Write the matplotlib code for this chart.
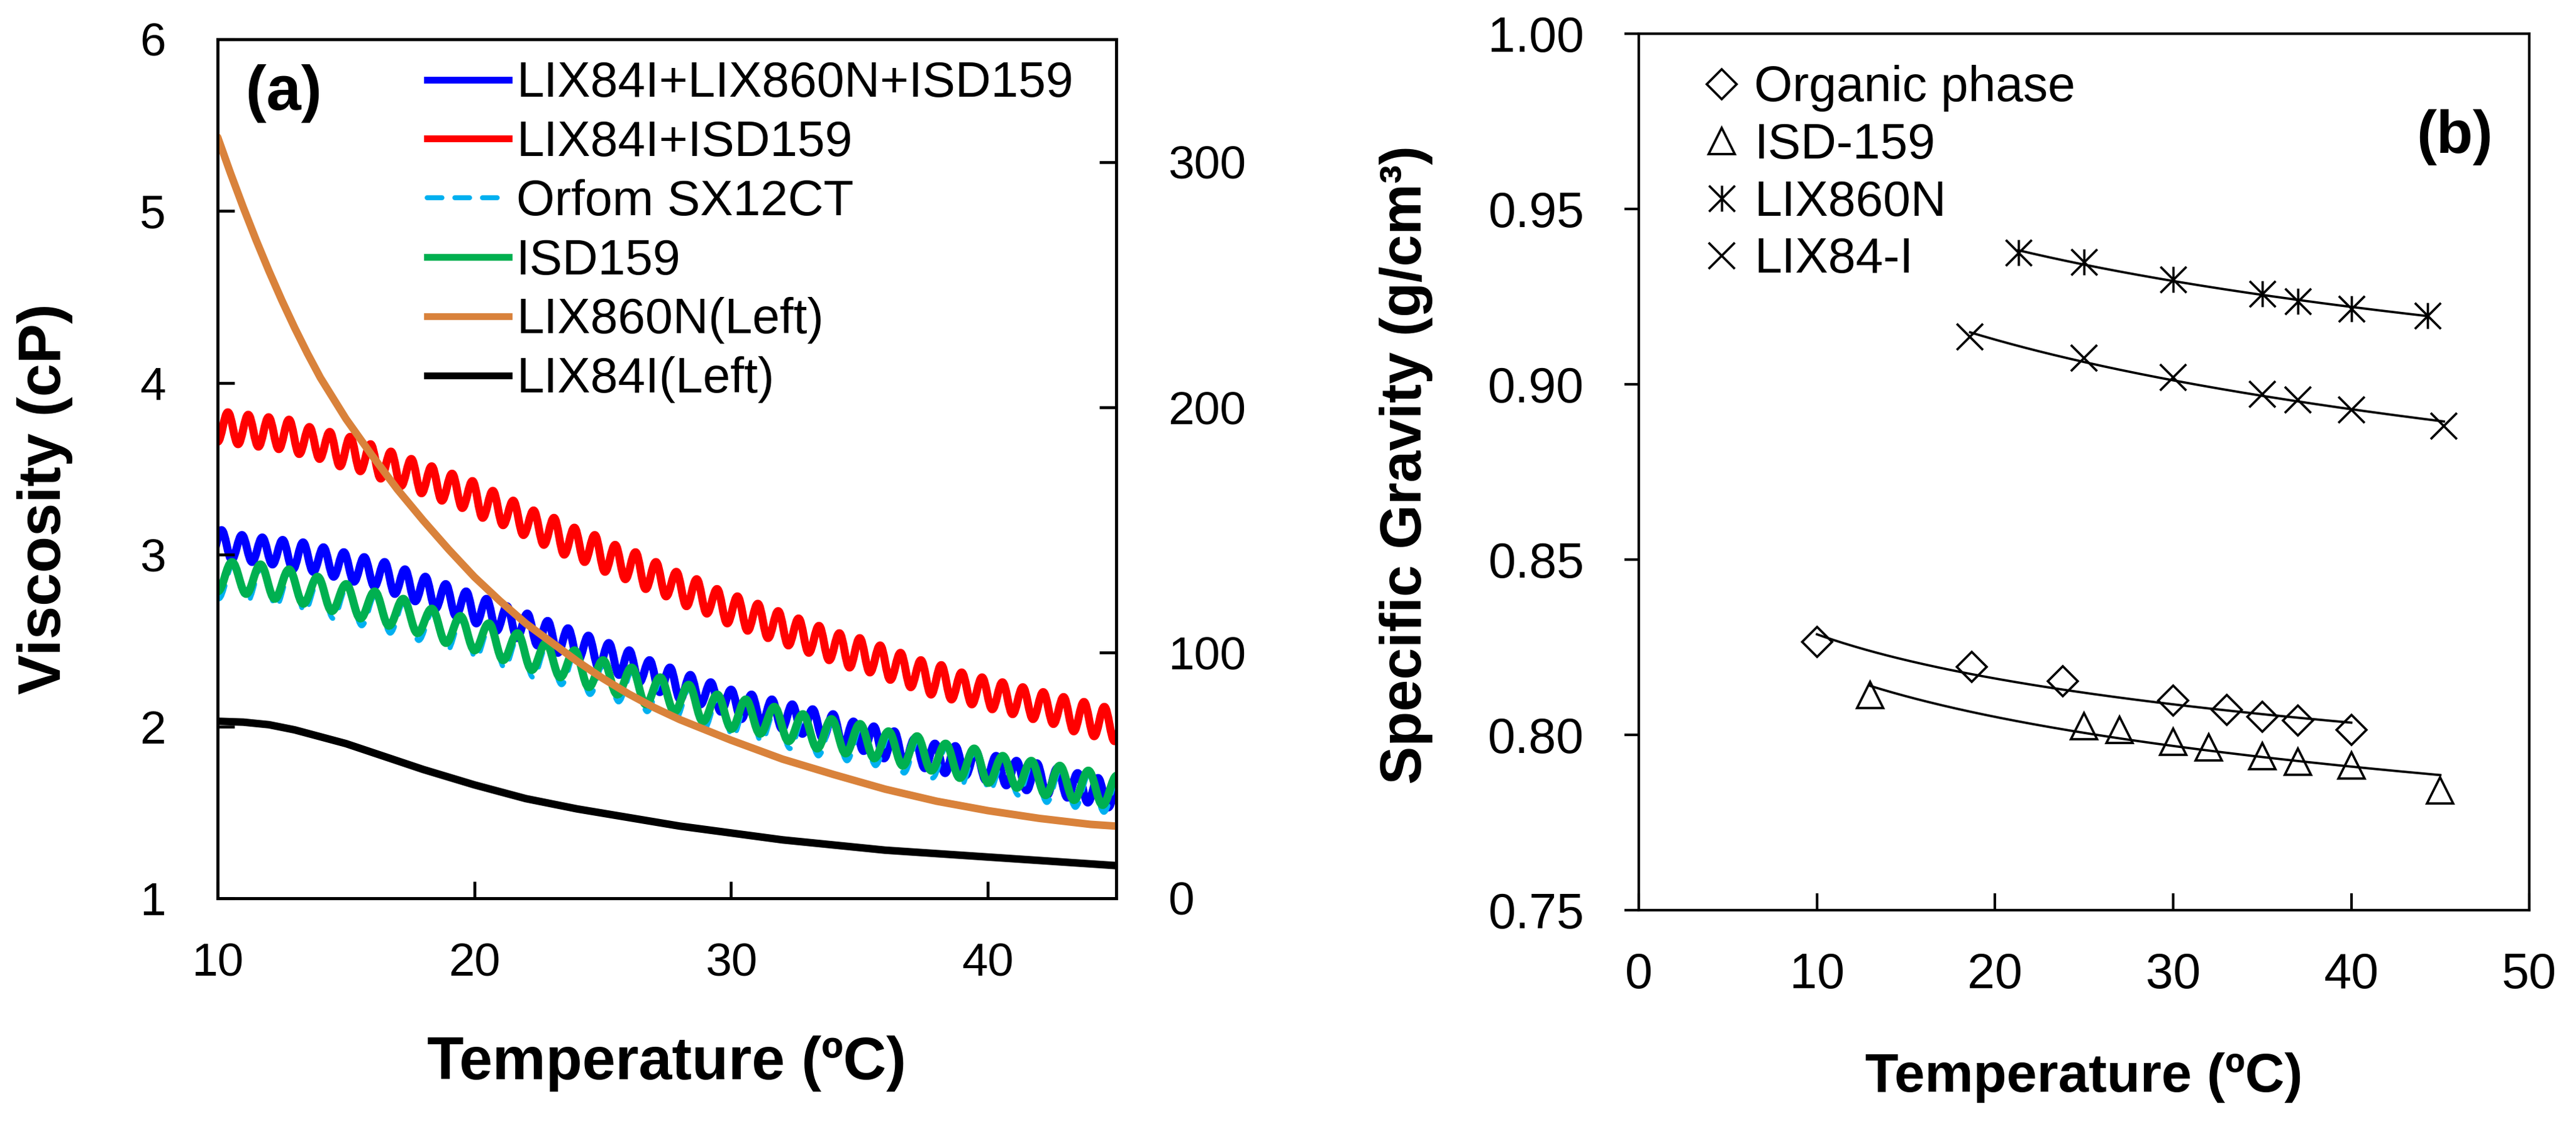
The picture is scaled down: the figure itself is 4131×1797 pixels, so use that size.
import numpy as np
import matplotlib.pyplot as plt
from matplotlib.path import Path
from matplotlib.patches import PathPatch
from matplotlib.lines import Line2D
from matplotlib.ticker import FormatStrFormatter

plt.rcParams['font.family'] = ['Liberation Sans', 'DejaVu Sans']

# ---- panel (a): viscosity vs temperature ----
# single extractants, left axis (cP)
lix860n_t = [10, 10.5, 11, 11.5, 12, 12.5, 13, 13.5, 14, 15, 16, 17, 18, 19, 20, 21,
             22, 23, 24, 25, 26, 27, 28, 29, 30, 32, 34, 36, 38, 40, 42, 44, 45]
lix860n_cp = [5.43, 5.22, 5.02, 4.83, 4.65, 4.48, 4.32, 4.17, 4.03, 3.79, 3.58, 3.38,
              3.20, 3.03, 2.87, 2.73, 2.60, 2.49, 2.38, 2.28, 2.19, 2.11, 2.04, 1.98,
              1.92, 1.81, 1.72, 1.635, 1.565, 1.51, 1.465, 1.43, 1.42]
lix84i_t = [10, 11, 12, 13, 14, 15, 16, 17, 18, 20, 22, 24, 26, 28, 30, 32, 34, 36,
            38, 40, 42, 44, 45]
lix84i_cp = [2.03, 2.025, 2.01, 1.98, 1.94, 1.90, 1.85, 1.80, 1.75, 1.66, 1.58, 1.52,
             1.47, 1.42, 1.38, 1.34, 1.31, 1.28, 1.26, 1.24, 1.22, 1.20, 1.19]

# blends, right axis (cP): alternating troughs / peaks of the oscillating traces
blue_t0, red_t0, green_t0, cyan_t0 = 9.753, 10.0, 10.0, 10.05
fast_step, slow_step = 0.397, 0.556   # spacing between successive extrema (degC)

blue_cp = [139, 150, 138, 148, 137, 147, 136, 146, 134, 145,
           133, 143, 131, 141, 129, 139, 127, 137, 124, 134,
           121, 131, 118, 128, 115, 125, 112, 122, 109, 119,
           106, 116, 103, 113, 100, 110, 97, 107, 94, 104,
           91, 101, 88, 97, 84, 94, 81, 91, 79, 88,
           76, 85, 73, 83, 71, 81, 69, 79, 67, 77,
           65, 75, 62, 72, 60, 70, 57, 68, 55, 65,
           53, 63, 51, 62, 50, 60, 48, 58, 46, 56,
           44, 55, 42, 53, 41, 51, 39, 49, 37, 47]
red_cp = [186, 198, 185, 197, 184, 196, 183, 195, 181, 192,
          179, 190, 176, 188, 174, 185, 171, 182, 168, 179,
          165, 176, 162, 173, 159, 170, 155, 166, 152, 162,
          148, 158, 144, 155, 140, 151, 137, 148, 133, 144,
          130, 141, 126, 137, 123, 133, 119, 130, 116, 126,
          112, 123, 109, 120, 106, 117, 103, 114, 100, 111,
          97, 108, 94, 106, 92, 103, 89, 100, 86, 97,
          83, 95, 81, 92, 79, 90, 77, 88, 75, 86,
          73, 84, 71, 82, 68, 80, 66, 78, 64, 75]
green_cp = [125, 137, 124, 136, 122, 134, 120, 131, 117, 128,
            114, 125, 111, 122, 108, 118, 104, 115, 101, 112,
            97, 108, 93, 104, 90, 101, 86, 97, 83, 94,
            79, 90, 76, 87, 72, 83, 69, 81, 67, 78,
            64, 75, 61, 73, 59, 71, 57, 68, 54, 66,
            52, 63, 49, 61, 47, 58, 45, 56, 42, 54,
            40, 52, 38, 50]
cyan_cp = [122, 136, 121, 135, 119, 133, 117, 130, 114, 127,
           111, 124, 108, 121, 105, 117, 101, 114, 98, 111,
           94, 107, 90, 103, 87, 100, 83, 96, 80, 93,
           76, 89, 73, 86, 69, 82, 66, 80, 64, 77,
           61, 74, 58, 72, 56, 70, 54, 67, 51, 65,
           49, 62, 46, 60, 44, 57, 42, 55, 39, 53,
           37, 51, 35, 49]

# ---- panel (b): specific gravity vs temperature ----
organic_t = [10, 18.7, 23.8, 30, 33, 35, 37, 40]
organic_sg = [0.8265, 0.8194, 0.8153, 0.8097, 0.8072, 0.8052, 0.8040, 0.8015]
isd_t = [13, 25, 27, 30, 32, 35, 37, 40, 45]
isd_sg = [0.8113, 0.8025, 0.8015, 0.7980, 0.7964, 0.7940, 0.7923, 0.7913, 0.7842]
lix860n_b_t = [21.3, 25, 30, 35, 37, 40, 44.3]
lix860n_sg = [0.9375, 0.9349, 0.9298, 0.9257, 0.9237, 0.9216, 0.9196]
lix84i_b_t = [18.6, 25, 30, 35, 37, 40, 45.2]
lix84i_sg = [0.9135, 0.9074, 0.9019, 0.8972, 0.8956, 0.8927, 0.8880]


def smooth_path(t0, step, vals):
    # smoothed line (bezier, flat tangents at each extremum) through the samples
    t = t0 + step * np.arange(len(vals))
    verts = [(t[0], vals[0])]
    codes = [Path.MOVETO]
    for i in range(1, len(t)):
        d = 0.3642 * (t[i] - t[i - 1])
        verts += [(t[i - 1] + d, vals[i - 1]), (t[i] - d, vals[i]), (t[i], vals[i])]
        codes += [Path.CURVE4] * 3
    return Path(verts, codes)


fig = plt.figure(figsize=(4131 / 300, 1797 / 300), dpi=300)

ax = fig.add_axes([0.0845, 0.1987, 0.3488, 0.7663])
ax2 = ax.twinx()
ax.set_zorder(ax2.get_zorder() + 1)
ax.patch.set_visible(False)

waves = [
    (blue_t0, fast_step, blue_cp, '#0000FF', '-'),
    (red_t0, fast_step, red_cp, '#FF0000', '-'),
    (cyan_t0, slow_step, cyan_cp, '#00B0F0', (0, (3, 2.6))),
    (green_t0, slow_step, green_cp, '#00B050', '-'),
]
for t0, step, vals, col, ls in waves:
    lw = 1.9 if ls != '-' else 3.1
    ax2.add_patch(PathPatch(smooth_path(t0, step, vals), fill=False, edgecolor=col,
                            lw=lw, ls=ls, joinstyle='round', capstyle='round'))

ax.plot(lix84i_t, lix84i_cp, color='black', lw=2.9, solid_capstyle='round')
ax.plot(lix860n_t, lix860n_cp, color='#D9823B', lw=2.9, solid_capstyle='round')

ax.set_xlim(10, 45)
ax.set_ylim(1, 6)
ax2.set_ylim(0, 350)
ax.set_xticks([10, 20, 30, 40])
ax.set_yticks([1, 2, 3, 4, 5, 6])
ax2.set_yticks([0, 100, 200, 300])
ax.tick_params(axis='both', direction='in', length=6.5, width=1.1, labelsize=18)
ax.tick_params(axis='x', pad=17)
ax.tick_params(axis='y', pad=20)
ax2.tick_params(axis='y', direction='in', length=6.5, width=1.1, labelsize=18, pad=20)
for a in (ax, ax2):
    for s in a.spines.values():
        s.set_linewidth(1.1)

ax.set_xlabel('Temperature (ºC)', fontsize=23, fontweight='bold', va='center')
ax.xaxis.set_label_coords(0.5, -0.1925)
ax.set_ylabel('Viscosity (cP)', fontsize=23, fontweight='bold', va='center')
ax.yaxis.set_label_coords(-0.192, 0.465)
ax.text(0.0736, 0.937, '(a)', transform=ax.transAxes, fontsize=24, fontweight='bold',
        ha='center', va='center')

legend_lines = [
    Line2D([], [], color='#0000FF', lw=2.6),
    Line2D([], [], color='#FF0000', lw=2.6),
    Line2D([], [], color='#00B0F0', lw=1.9, ls=(0, (3, 2.6)), dash_capstyle='round'),
    Line2D([], [], color='#00B050', lw=2.6),
    Line2D([], [], color='#D9823B', lw=2.6),
    Line2D([], [], color='black', lw=2.6),
]
ax.legend(legend_lines,
          ['LIX84I+LIX860N+ISD159', 'LIX84I+ISD159', 'Orfom SX12CT', 'ISD159',
           'LIX860N(Left)', 'LIX84I(Left)'],
          loc='upper left', bbox_to_anchor=(0.233, 0.975), frameon=False, fontsize=19,
          handlelength=1.66, handletextpad=0.15, labelspacing=0.25, borderpad=0,
          borderaxespad=0)

# ---- panel (b) ----
bx = fig.add_axes([0.6362, 0.1881, 0.3457, 0.7819])

asterisk = Path([(0, -1), (0, 1), (-1, -1), (1, 1), (-1, 1), (1, -1)],
                [Path.MOVETO, Path.LINETO] * 3)
series_b = [
    (organic_t, organic_sg, 'D', 8.2, 'Organic phase'),
    (isd_t, isd_sg, '^', 10.3, 'ISD-159'),
    (lix860n_b_t, lix860n_sg, asterisk, 10, 'LIX860N'),
    (lix84i_b_t, lix84i_sg, 'x', 10, 'LIX84-I'),
]
for t, sg, mk, ms, lab in series_b:
    t = np.asarray(t)
    sg = np.asarray(sg)
    # logarithmic trend line through each data set
    coef = np.polyfit(np.log(t), sg, 1)
    tt = np.linspace(t.min(), t.max(), 200)
    bx.plot(tt, np.polyval(coef, np.log(tt)), color='black', lw=0.9)
    bx.plot(t, sg, ls='none', marker=mk, ms=ms, mfc='none', mec='black', mew=0.9,
            label=lab)

bx.set_xlim(0, 50)
bx.set_ylim(0.75, 1.00)
bx.set_xticks([0, 10, 20, 30, 40, 50])
bx.set_yticks([0.75, 0.80, 0.85, 0.90, 0.95, 1.00])
bx.yaxis.set_major_formatter(FormatStrFormatter('%.2f'))
bx.tick_params(axis='x', direction='in', length=6.5, width=1.0, labelsize=19, pad=16)
bx.tick_params(axis='y', direction='out', length=5.5, width=1.0, labelsize=19, pad=15.5)
for s in bx.spines.values():
    s.set_linewidth(1.0)

bx.set_xlabel('Temperature (ºC)', fontsize=21, fontweight='bold', va='center')
bx.xaxis.set_label_coords(0.5, -0.191)
bx.set_ylabel('Specific Gravity (g/cm³)', fontsize=22, fontweight='bold', va='center')
bx.yaxis.set_label_coords(-0.261, 0.508)
bx.text(0.916, 0.882, '(b)', transform=bx.transAxes, fontsize=23, fontweight='bold',
        ha='center', va='center')
bx.legend(loc='upper left', bbox_to_anchor=(0.071, 0.964), frameon=False, fontsize=19,
          handlelength=0.8, handletextpad=0.26, labelspacing=0.21, borderpad=0,
          borderaxespad=0, numpoints=1)

fig.savefig('out.png', dpi=300)
